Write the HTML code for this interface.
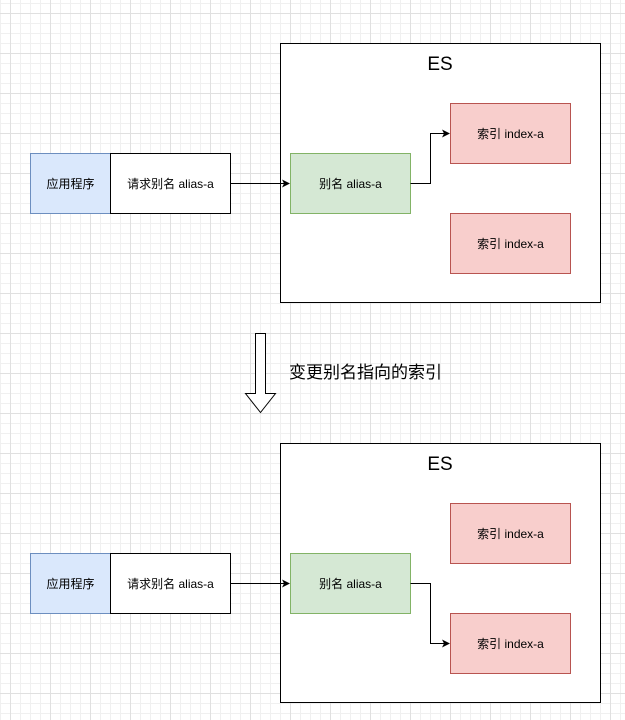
<!DOCTYPE html>
<html><head><meta charset="utf-8"><style>
body{margin:0;width:625px;height:720px;overflow:hidden;background:#fff;
background-image:
linear-gradient(#e0e0e0 1px,transparent 1px),linear-gradient(90deg,#e0e0e0 1px,transparent 1px),
linear-gradient(#f0f0f0 1px,transparent 1px),linear-gradient(90deg,#f0f0f0 1px,transparent 1px);
background-size:40px 40px,40px 40px,10px 10px,10px 10px;
background-position:0 13px,10px 0,0 3px,0 0;
font-family:"Liberation Sans","Noto Sans CJK SC",sans-serif;}
</style></head><body>
<svg width="625" height="720" style="position:absolute;left:0;top:0" font-family="Liberation Sans, Noto Sans CJK SC, sans-serif">
<defs><marker id="a" markerWidth="8" markerHeight="8" refX="7" refY="4" orient="auto" markerUnits="userSpaceOnUse"><path d="M0,0L8,4L0,8L2,4z" fill="#000"/></marker></defs>
<g id="g">
<rect x="280.5" y="43.5" width="320" height="259" fill="#fff" stroke="#000"/>
<text x="440" y="70" font-size="19" text-anchor="middle">ES</text>
<rect x="30.5" y="153.5" width="80" height="60" fill="#dae8fc" stroke="#6c8ebf"/>
<text x="70.5" y="188" font-size="12" text-anchor="middle">应用程序</text>
<rect x="110.5" y="153.5" width="120" height="60" fill="#fff" stroke="#000"/>
<text x="170.5" y="188" font-size="12" text-anchor="middle">请求别名 alias-a</text>
<rect x="290.5" y="153.5" width="120" height="60" fill="#d5e8d4" stroke="#82b366"/>
<text x="350.5" y="188" font-size="12" text-anchor="middle">别名 alias-a</text>
<rect x="450.5" y="103.5" width="120" height="60" fill="#f8cecc" stroke="#b85450"/>
<text x="510.5" y="138" font-size="12" text-anchor="middle">索引 index-a</text>
<rect x="450.5" y="213.5" width="120" height="60" fill="#f8cecc" stroke="#b85450"/>
<text x="510.5" y="248" font-size="12" text-anchor="middle">索引 index-a</text>
<path d="M230.5,183.5H289" stroke="#000" fill="none" marker-end="url(#a)"/>
</g>
<path d="M410.5,183.5H430.5V133.5H449" stroke="#000" fill="none" marker-end="url(#a)"/>
<use href="#g" y="400"/>
<path d="M410.5,583.5H430.5V643.5H449" stroke="#000" fill="none" marker-end="url(#a)"/>
<path d="M255.5,333.5H265.5V393.5H275.5L260.5,412.5L245.5,393.5H255.5Z" fill="#fff" stroke="#000"/>
<text x="289" y="378" font-size="17">变更别名指向的索引</text>
</svg>
</body></html>
